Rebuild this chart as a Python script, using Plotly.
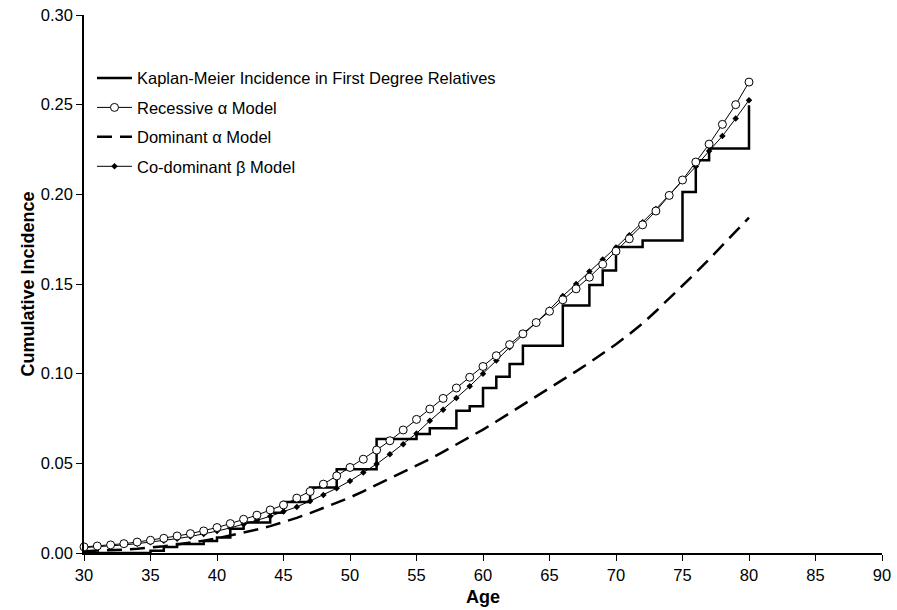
import plotly.graph_objects as go

ages = list(range(30, 81))

recessive = [0.0034, 0.0039, 0.0045, 0.0052, 0.0061, 0.0071, 0.0082, 0.0095, 0.0108, 0.0123,
             0.0142, 0.0164, 0.0188, 0.0211, 0.0240, 0.0268, 0.0306, 0.0343, 0.0384, 0.0430,
             0.0477, 0.0523, 0.0574, 0.0626, 0.0686, 0.0745, 0.0803, 0.0862, 0.0920, 0.0980,
             0.1040, 0.1100, 0.1162, 0.1222, 0.1285, 0.1348, 0.1412, 0.1473, 0.1538, 0.1610,
             0.1683, 0.1752, 0.1830, 0.1907, 0.1994, 0.2080, 0.2180, 0.2280, 0.2390, 0.2500,
             0.2626]

codominant = [0.0030, 0.0034, 0.0039, 0.0045, 0.0052, 0.0060, 0.0069, 0.0080, 0.0092, 0.0106,
              0.0122, 0.0140, 0.0160, 0.0182, 0.0205, 0.0231, 0.0257, 0.0290, 0.0324, 0.0361,
              0.0402, 0.0449, 0.0496, 0.0551, 0.0607, 0.0667, 0.0737, 0.0799, 0.0865, 0.0930,
              0.1000, 0.1073, 0.1147, 0.1215, 0.1285, 0.1358, 0.1433, 0.1500, 0.1570, 0.1637,
              0.1704, 0.1772, 0.1845, 0.1918, 0.1996, 0.2075, 0.2155, 0.2242, 0.2325, 0.2423,
              0.2525]

dominant = [0.0010, 0.0012, 0.0015, 0.0019, 0.0024, 0.0030, 0.0038, 0.0047, 0.0057, 0.0069,
            0.0082, 0.0097, 0.0113, 0.0131, 0.0150, 0.0172, 0.0196, 0.0222, 0.0250, 0.0279,
            0.0310, 0.0344, 0.0380, 0.0415, 0.0451, 0.0487, 0.0524, 0.0564, 0.0605, 0.0646,
            0.0688, 0.0733, 0.0779, 0.0825, 0.0872, 0.0920, 0.0966, 0.1013, 0.1061, 0.1110,
            0.1164, 0.1220, 0.1280, 0.1348, 0.1418, 0.1490, 0.1563, 0.1638, 0.1714, 0.1791,
            0.1870]

km_ages = [30, 35, 36, 37, 39, 40, 41, 42, 44, 45, 47, 49, 52, 55, 56, 58, 59, 60, 61, 62,
           63, 66, 68, 69, 70, 72, 75, 76, 77, 80]
km_vals = [0.0, 0.0012, 0.0033, 0.0050, 0.0067, 0.0086, 0.0135, 0.0170, 0.0225, 0.0285,
           0.0365, 0.0467, 0.0636, 0.0664, 0.0695, 0.0793, 0.0818, 0.0920, 0.0983, 0.1054,
           0.1156, 0.1380, 0.1495, 0.1575, 0.1706, 0.1743, 0.2013, 0.2190, 0.2255, 0.2497]

x_ticks = list(range(30, 91, 5))
y_ticks = [0.0, 0.05, 0.10, 0.15, 0.20, 0.25, 0.30]

FONT = "Liberation Sans, Arial, Helvetica, sans-serif"

fig = go.Figure()

fig.add_trace(go.Scatter(
    x=km_ages, y=km_vals, mode="lines", line=dict(color="black", width=2.5, shape="hv"),
    name="Kaplan-Meier Incidence in First Degree Relatives", legendgroup="a", legendrank=1,
    cliponaxis=False))

fig.add_trace(go.Scatter(
    x=ages, y=dominant, mode="lines",
    line=dict(color="black", width=2.5, dash="15px,8px"),
    name="Dominant α Model", legendgroup="c", legendrank=3, cliponaxis=False))

fig.add_trace(go.Scatter(
    x=ages, y=codominant, mode="lines+markers",
    line=dict(color="black", width=1),
    marker=dict(symbol="diamond", size=5, color="black"),
    name="Co-dominant β Model", legendgroup="d", legendrank=4, cliponaxis=False))

fig.add_trace(go.Scatter(
    x=ages, y=recessive, mode="lines+markers",
    line=dict(color="black", width=1),
    marker=dict(symbol="circle", size=8, color="white", line=dict(color="black", width=1)),
    name="Recessive α Model", legendgroup="b", legendrank=2, cliponaxis=False))

fig.update_layout(
    width=897, height=610,
    margin=dict(l=84, r=15, t=15, b=57),
    paper_bgcolor="white", plot_bgcolor="white",
    font=dict(family=FONT, color="black", size=16),
    showlegend=True,
    legend=dict(x=0.010, y=0.915, xanchor="left", yanchor="top",
                bgcolor="rgba(0,0,0,0)", font=dict(size=16.5, family=FONT),
                traceorder="grouped", tracegroupgap=5, itemwidth=35),
)

fig.update_xaxes(range=[30, 90], tickvals=x_ticks, ticktext=[str(t) for t in x_ticks],
                 showline=True, linecolor="black", linewidth=1.5, ticks="outside",
                 ticklen=6, tickwidth=1, tickcolor="black", showgrid=False, zeroline=False,
                 tickfont=dict(size=16.5), automargin=False,
                 title=dict(text="<b>Age</b>", font=dict(size=18), standoff=8))

fig.update_yaxes(range=[0, 0.30], tickvals=y_ticks, ticktext=[f"{t:.2f}" for t in y_ticks],
                 showline=True, linecolor="black", linewidth=1.5, ticks="outside",
                 ticklen=6, tickwidth=1, tickcolor="black", showgrid=False, zeroline=False,
                 tickfont=dict(size=16.5), automargin=False,
                 title=dict(text="<b>Cumulative Incidence</b>", font=dict(size=18), standoff=2))

fig.write_html("out.html", config={"displayModeBar": False},
               post_script="document.body.style.margin='0';")
